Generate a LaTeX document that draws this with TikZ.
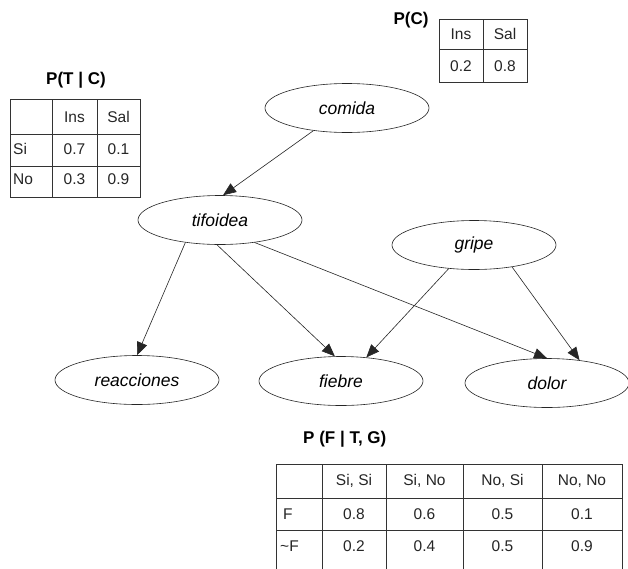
\documentclass[tikz,border=0pt]{standalone}
\usepackage{fontspec}
\setmainfont{Liberation Sans}
\usetikzlibrary{arrows.meta,shapes.geometric}
\begin{document}
\begin{tikzpicture}[x=1pt,y=-1pt,
  var/.style={ellipse,draw=black!85,line width=0.6pt,minimum width=164pt,minimum height=49pt,inner sep=0pt,font=\fontsize{17.5}{20}\selectfont\itshape},
  edge/.style={draw=black!85,line width=0.6pt,-{Triangle[length=13pt,width=10.5pt]}},
  cell/.style={font=\fontsize{15.5}{18}\selectfont,inner sep=0pt,text=black!85},
  title/.style={font=\fontsize{17}{20}\selectfont\bfseries,inner sep=0pt},
  grid/.style={draw=black!80,line width=0.7pt}]
\useasboundingbox[fill=white] (0,0) rectangle (628,568);

% variables
\node[var] (comida) at (347,108) {comida};
\node[var] (tifoidea) at (220,220) {tifoidea};
\node[var] (gripe) at (474,245) {gripe};
\node[var] (reacciones) at (137,380) {reacciones};
\node[var] (fiebre) at (341,381) {fiebre};
\node[var] (dolor) at (547,383) {dolor};

% edges
\draw[edge] (comida.214) -- (tifoidea.83);
\draw[edge] (tifoidea.213) -- (reacciones.90);
\draw[edge] (tifoidea.263) -- (fiebre.104);
\draw[edge] (tifoidea.327) -- (dolor.90);
\draw[edge] (gripe.223) -- (fiebre.43);
\draw[edge] (gripe.330) -- (dolor.35);

% P(C)
\node[title] (pc) at (411,20) {P(C)};
\draw[grid] (439,19) rectangle (527,82);
\draw[grid] (439,49) -- (527,49) (483,19) -- (483,82);
\node[cell] (pc11) at (461,34) {Ins};
\node[cell] (pc12) at (505,34) {Sal};
\node[cell] (pc21) at (461,66) {0.2};
\node[cell] (pc22) at (505,66) {0.8};

% P(T | C)
\node[title] (ptc) at (76,80) {P(T | C)};
\draw[grid] (10,99) rectangle (140,197);
\draw[grid] (10,134) -- (140,134) (10,166) -- (140,166)
            (52,99) -- (52,197) (97,99) -- (97,197);
\node[cell] (ptc12) at (74.5,117) {Ins};
\node[cell] (ptc13) at (118.5,117) {Sal};
\node[cell,anchor=west] (ptc21) at (13,149) {Si};
\node[cell] (ptc22) at (74.5,149) {0.7};
\node[cell] (ptc23) at (118.5,149) {0.1};
\node[cell,anchor=west] (ptc31) at (13,179) {No};
\node[cell] (ptc32) at (74.5,179) {0.3};
\node[cell] (ptc33) at (118.5,179) {0.9};

% P (F | T, G)
\node[title,anchor=west] (pftg) at (303,439) {P (F | T, G)};
\draw[grid] (276,464) -- (622,464) (276,498) -- (622,498) (276,530) -- (622,530);
\draw[grid] (276,464) -- (276,575) (322,464) -- (322,575) (386,464) -- (386,575)
            (463,464) -- (463,575) (542,464) -- (542,575) (622,464) -- (622,575);
\node[cell] (pf12) at (354,481) {Si, Si};
\node[cell] (pf13) at (424.5,481) {Si, No};
\node[cell] (pf14) at (502.5,481) {No, Si};
\node[cell] (pf15) at (582,481) {No, No};
\node[cell,anchor=west] (pf21) at (283,514) {F};
\node[cell] (pf22) at (354,514) {0.8};
\node[cell] (pf23) at (424.5,514) {0.6};
\node[cell] (pf24) at (502.5,514) {0.5};
\node[cell] (pf25) at (582,514) {0.1};
\node[cell,anchor=west] (pf31) at (280,546) {\textasciitilde F};
\node[cell] (pf32) at (354,546) {0.2};
\node[cell] (pf33) at (424.5,546) {0.4};
\node[cell] (pf34) at (502.5,546) {0.5};
\node[cell] (pf35) at (582,546) {0.9};
\end{tikzpicture}
\end{document}
